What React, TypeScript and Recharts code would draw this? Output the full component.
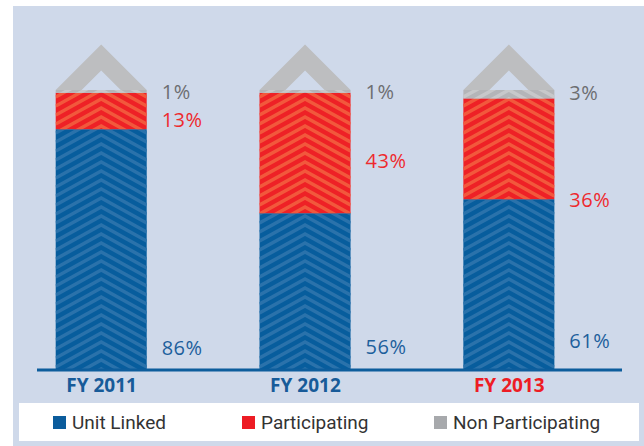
import React from 'react';
import { BarChart, Bar, XAxis, YAxis, LabelList } from 'recharts';

const categories = ['FY 2011', 'FY 2012', 'FY 2013'];
const unitLinked = [86, 56, 61];
const participating = [13, 43, 36];
const nonParticipating = [1, 1, 3];

// where each % label sits inside its segment (0 = top, 1 = bottom)
const unitLabelAt = [0.905, 0.85, 0.83];
const partLabelAt = [0.72, 0.56, 1.0];
const nonLabelAt = [0.7, 0.7, 0.24];

const data = categories.map((name, i) => ({
  idx: i,
  name,
  unitLinked: unitLinked[i],
  participating: participating[i],
  nonParticipating: nonParticipating[i],
}));

const PERIOD = 9;
const SLOPE = 0.55;

const StripedBar = (props: any) => {
  const { x, y, width, height, index, base, stripe, cap, name } = props;
  if (width == null || height == null) return null;
  const cx = x + width / 2;
  const half = width / 2;
  const drop = half * SLOPE;
  const id = `clip-${name}-${index}`;
  let d = '';
  const start = Math.floor((y - drop) / PERIOD) * PERIOD;
  for (let yy = start; yy <= y + height + PERIOD; yy += PERIOD) {
    d += `M${x},${yy + drop}L${cx},${yy}L${x + width},${yy + drop}`;
  }
  const inner = half * 0.43;
  return (
    <g>
      <defs>
        <clipPath id={id}>
          <rect x={x} y={y} width={width} height={height} />
        </clipPath>
      </defs>
      <rect x={x} y={y} width={width} height={height} fill={base} />
      <path d={d} stroke={stripe} strokeWidth={3.5} fill="none" clipPath={`url(#${id})`} />
      {cap && (
        <path
          d={`M${x},${y}L${cx},${y - half}L${x + width},${y}Z M${cx - inner},${y}L${cx},${y - inner}L${cx + inner},${y}Z`}
          fill={cap}
          fillRule="evenodd"
        />
      )}
    </g>
  );
};

const makeLabel = (color: string, at: number[]) => (props: any) => {
  const { x, y, width, height, index, value } = props;
  const cy = y + height * at[index];
  return (
    <text
      x={x + width + 15}
      y={cy}
      dominantBaseline="central"
      fill={color}
      fontFamily="'Open Sans', sans-serif"
      fontSize={20}
      letterSpacing={0.5}
    >
      {value}%
    </text>
  );
};

const AxisTick = (props: any) => {
  const { x, y, payload } = props;
  const label = categories[payload.value];
  return (
    <text
      x={x}
      y={y}
      dy={22}
      textAnchor="middle"
      fill={payload.value === 2 ? '#ed1c24' : '#175b99'}
      fontFamily="'Open Sans', sans-serif"
      fontWeight="bold"
      fontSize={19}
    >
      {label}
    </text>
  );
};

const legendItems = [
  { label: 'Unit Linked', color: '#0b5c9c', left: 34 },
  { label: 'Participating', color: '#ed1c24', left: 223 },
  { label: 'Non Participating', color: '#a7a9ac', left: 415 },
];

export default function App() {
  return (
    <div style={{ position: 'absolute', left: 0, top: 0, width: 644, height: 446, background: '#fff' }}>
      <div style={{ position: 'absolute', left: 13, top: 6, width: 631, height: 440, background: '#cfd9ea' }} />
      <div style={{ position: 'absolute', left: 0, top: 0 }}>
        <BarChart
          width={644}
          height={446}
          data={data}
          margin={{ top: 90, right: 22, left: 37, bottom: 46 }}
        >
          <XAxis
            type="number"
            dataKey="idx"
            domain={[-0.317, 2.553]}
            ticks={[0, 1, 2]}
            interval={0}
            height={30}
            tickLine={false}
            tickSize={0}
            tickMargin={0}
            axisLine={{ stroke: '#0d5d9c', strokeWidth: 3 }}
            tick={<AxisTick />}
          />
          <YAxis hide domain={[0, 100]} />
          <Bar
            dataKey="unitLinked"
            stackId="a"
            barSize={91}
            isAnimationActive={false}
            shape={(p: any) => <StripedBar {...p} name="ul" base="#075d9d" stripe="#2a72ab" />}
          >
            <LabelList dataKey="unitLinked" content={makeLabel('#1d5f9c', unitLabelAt)} />
          </Bar>
          <Bar
            dataKey="participating"
            stackId="a"
            barSize={91}
            isAnimationActive={false}
            shape={(p: any) => <StripedBar {...p} name="pa" base="#ee2126" stripe="#f2583c" />}
          >
            <LabelList dataKey="participating" content={makeLabel('#ee2a2e', partLabelAt)} />
          </Bar>
          <Bar
            dataKey="nonParticipating"
            stackId="a"
            barSize={91}
            isAnimationActive={false}
            shape={(p: any) => (
              <StripedBar {...p} name="np" base="#b4b5b8" stripe="#c7c8ca" cap="#bdbec0" />
            )}
          >
            <LabelList dataKey="nonParticipating" content={makeLabel('#6d6e71', nonLabelAt)} />
          </Bar>
        </BarChart>
      </div>
      <div
        style={{
          position: 'absolute',
          left: 19,
          top: 403,
          width: 620,
          height: 38,
          background: '#fff',
        }}
      >
        {legendItems.map((it) => (
          <div
            key={it.label}
            style={{
              position: 'absolute',
              left: it.left,
              top: 0,
              height: 38,
              display: 'flex',
              alignItems: 'center',
              fontFamily: "'Roboto', sans-serif",
              fontSize: 19,
              color: '#333',
              whiteSpace: 'nowrap',
            }}
          >
            <span style={{ display: 'inline-block', width: 13, height: 13, background: it.color, marginRight: 6 }} />
            {it.label}
          </div>
        ))}
      </div>
    </div>
  );
}
